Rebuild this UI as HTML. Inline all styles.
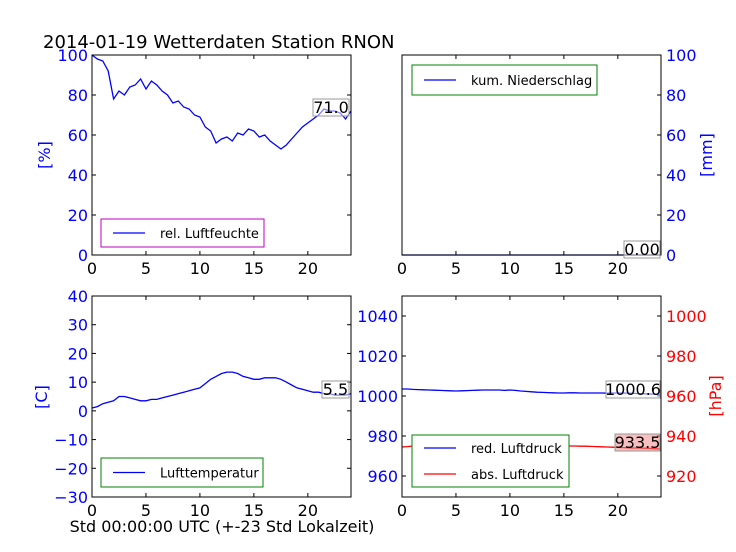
<!DOCTYPE html>
<html><head><meta charset="utf-8"><style>
body{margin:0;background:#fff;}
svg{display:block;font-family:"DejaVu Sans","Liberation Sans",sans-serif;}
</style></head><body>
<svg id="c" width="736" height="552"></svg>
<script>
const hours=[0,0.5,1,1.5,2,2.5,3,3.5,4,4.5,5,5.5,6,6.5,7,7.5,8,8.5,9,9.5,10,10.5,11,11.5,12,12.5,13,13.5,14,14.5,15,15.5,16,16.5,17,17.5,18,18.5,19,19.5,20,20.5,21,21.5,22,22.5,23,23.5,24];
const humidity=[100,98,97,92,78,82,80,84,85,88,83,87,85,82,80,76,77,74,73,70,69,64,62,56,58,59,57,61,60,63,62,59,60,57,55,53,55,58,61,64,66,68,70,73,72,72,71,68,72];
const rain=[0,0,0,0,0,0,0,0,0,0,0,0,0,0,0,0,0,0,0,0,0,0,0,0,0,0,0,0,0,0,0,0,0,0,0,0,0,0,0,0,0,0,0,0,0,0,0,0,0];
const temperature=[1,1.5,2.5,3,3.5,5,5,4.5,4,3.5,3.5,4,4,4.5,5,5.5,6,6.5,7,7.5,8,9.5,11,12,13,13.5,13.5,13,12,11.5,11,11,11.5,11.5,11.5,11,10,9,8,7.5,7,6.5,6.5,6,6,5.5,5.5,5.5,6];
const redPressure=[1003.5,1003.5,1003.3,1003.2,1003.1,1003,1002.9,1002.8,1002.7,1002.6,1002.5,1002.6,1002.7,1002.8,1002.9,1003,1003,1003,1003,1002.8,1003,1002.8,1002.5,1002.3,1002.1,1001.9,1001.8,1001.7,1001.6,1001.5,1001.5,1001.6,1001.6,1001.5,1001.5,1001.5,1001.5,1001.5,1001.4,1001.5,1001.5,1001.5,1001.4,1001.3,1001.2,1001.1,1001,1000.8,1000.6];
const absPressure=[934.5,934.7,935,934.8,934.5,934.3,934.1,934.3,934.5,934.7,934.9,935,935.1,935.3,935.5,935.7,935.9,936,936.1,936.1,936,935.9,935.8,935.7,935.7,935.6,935.5,935.4,935.3,935.2,935.1,935,935,934.9,934.9,934.8,934.7,934.6,934.5,934.4,934.3,934.2,934.1,934,934,933.9,933.8,933.6,933.5];
const xTicks=[0,5,10,15,20];
const humTicks=[0,20,40,60,80,100];
const tempTicks=[-30,-20,-10,0,10,20,30,40];
const presTicks=[960,980,1000,1020,1040];
const absTicks=[920,940,960,980,1000];

const NS="http://www.w3.org/2000/svg";
const svg=document.getElementById('c');
function el(tag,attrs,parent){const e=document.createElementNS(NS,tag);for(const k in attrs)e.setAttribute(k,attrs[k]);(parent||svg).appendChild(e);return e;}
function txt(s,attrs,parent){const t=el('text',attrs,parent);t.textContent=s;return t;}
function fmt(v){return v<0?'\u2212'+Math.abs(v):String(v);}

function panel(name,x0,y0,x1,y1){
  const g=el('g',{});
  
  
  const xs=v=>x0+(v/24)*(x1-x0);
  return {g,xs,x0,y0,x1,y1};
}
function frame(p){
  const r=el('rect',{x:p.x0,y:p.y0,width:p.x1-p.x0,height:p.y1-p.y0,fill:'none',stroke:'#000','stroke-width':1},p.g);
  
  
}
function xaxis(p){
  xTicks.forEach(v=>{
    const x=p.xs(v);
    el('line',{x1:x,x2:x,y1:p.y1,y2:p.y1-4,stroke:'#000'},p.g);
    el('line',{x1:x,x2:x,y1:p.y0,y2:p.y0+4,stroke:'#000'},p.g);
    const t=txt(String(v),{x:x,y:p.y1+19,'text-anchor':'middle','font-size':16},p.g);
    
    
  });
}
function yaxis(p,ticks,ys,side,color){
  ticks.forEach(v=>{
    const y=ys(v);
    el('line',{x1:p.x0,x2:p.x0+4,y1:y,y2:y,stroke:'#000'},p.g);
    el('line',{x1:p.x1,x2:p.x1-4,y1:y,y2:y,stroke:'#000'},p.g);
    const t=txt(fmt(v),{x:side==='left'?p.x0-4:p.x1+5,y:y+6,'text-anchor':side==='left'?'end':'start','font-size':16,fill:color},p.g);
    
    
  });
}
function series(p,vals,ys,color,name){
  const d=vals.map((v,i)=>(i?'L':'M')+p.xs(hours[i]).toFixed(1)+','+ys(v).toFixed(1)).join('');
  const path=el('path',{d:d,fill:'none',stroke:color,'stroke-width':1.3},p.g);
  
  
}
function valueBox(p,label,x,y,w,bg,name){
  el('rect',{x:x,y:y,width:w,height:17,fill:bg,stroke:'#999','stroke-width':1},p.g);
  const t=txt(label,{x:x+w/2,y:y+14,'text-anchor':'middle','font-size':16},p.g);
  
  
}
function legend(p,x,y,w,h,border,entries,name){
  const g=el('g',{},p.g);
  
  
  el('rect',{x:x,y:y,width:w,height:h,fill:'#fff',stroke:border},g);
  entries.forEach((e,i)=>{
    const cy=y+(h/entries.length)*(i+0.5);
    el('line',{x1:x+12,x2:x+44,y1:cy,y2:cy,stroke:e[1],'stroke-width':1.3},g);
    const t=txt(e[0],{x:x+59,y:cy+5,'font-size':13},g);
    
    
  });
}

const title=txt('2014-01-19 Wetterdaten Station RNON',{x:43,y:48,'font-size':18});



const p1=panel('humidity-panel',92,55,351,255);
const ys1=v=>p1.y1-(v/100)*(p1.y1-p1.y0);
series(p1,humidity,ys1,'#0000ff','humidity-line');
frame(p1);xaxis(p1);yaxis(p1,humTicks,ys1,'left','#0000ff');
valueBox(p1,'71.0',313,99,36,'rgba(255,255,255,0.5)','humidity-value');
legend(p1,101,219,163,28,'#bf00bf',[['rel. Luftfeuchte','#0000ff']],'humidity-legend');
let yl=txt('[%]',{x:0,y:0,'font-size':16,fill:'#0000ff','text-anchor':'middle',transform:'translate(50,155) rotate(-90)'});


const p2=panel('rain-panel',402,55,661,255);
const ys2=v=>p2.y1-(v/100)*(p2.y1-p2.y0);
series(p2,rain,ys2,'#0000ff','rain-line');
frame(p2);xaxis(p2);
humTicks.forEach(v=>{const y=ys2(v);el('line',{x1:p2.x1,x2:p2.x1-4,y1:y,y2:y,stroke:'#000'},p2.g);
  const t=txt(String(v),{x:p2.x1+5,y:y+6,'font-size':16,fill:'#0000ff'},p2.g);});
valueBox(p2,'0.00',624,241,36,'rgba(255,255,255,0.5)','rain-value');
legend(p2,412,65,185,30,'#008000',[['kum. Niederschlag','#0000ff']],'rain-legend');
yl=txt('[mm]',{x:0,y:0,'font-size':16,fill:'#0000ff','text-anchor':'middle',transform:'translate(712,155) rotate(-90)'});


const p3=panel('temperature-panel',92,296,351,497);
const ys3=v=>p3.y1-((v+30)/70)*(p3.y1-p3.y0);
series(p3,temperature,ys3,'#0000ff','temperature-line');
frame(p3);xaxis(p3);yaxis(p3,tempTicks,ys3,'left','#0000ff');
valueBox(p3,'5.5',322,381,27,'rgba(255,255,255,0.5)','temperature-value');
legend(p3,101,458,162,29,'#008000',[['Lufttemperatur','#0000ff']],'temperature-legend');
yl=txt('[C]',{x:0,y:0,'font-size':16,fill:'#0000ff','text-anchor':'middle',transform:'translate(47,397) rotate(-90)'});

const xl=txt('Std 00:00:00 UTC (+-23 Std Lokalzeit)',{x:222,y:532,'font-size':16,'text-anchor':'middle'});


const p4=panel('pressure-panel',402,296,661,497);
const ys4=v=>p4.y1-((v-949.5)/100.5)*(p4.y1-p4.y0);
const ys4r=v=>p4.y1-((v-909.5)/100.5)*(p4.y1-p4.y0);
series(p4,redPressure,ys4,'#0000ff','red-pressure-line');
series(p4,absPressure,ys4r,'#ff0000','abs-pressure-line');
frame(p4);xaxis(p4);
presTicks.forEach(v=>{const y=ys4(v);el('line',{x1:p4.x0,x2:p4.x0+4,y1:y,y2:y,stroke:'#000'},p4.g);
  const t=txt(String(v),{x:p4.x0-4,y:y+6,'text-anchor':'end','font-size':16,fill:'#0000ff'},p4.g);});
absTicks.forEach(v=>{const y=ys4r(v);el('line',{x1:p4.x1,x2:p4.x1-4,y1:y,y2:y,stroke:'#000'},p4.g);
  const t=txt(String(v),{x:p4.x1+5,y:y+6,'font-size':16,fill:'#ff0000'},p4.g);});
valueBox(p4,'1000.6',606,381,54,'rgba(255,255,255,0.5)','red-pressure-value');
valueBox(p4,'933.5',615,434,45,'rgba(240,128,128,0.5)','abs-pressure-value');
legend(p4,412,435,157,52,'#008000',[['red. Luftdruck','#0000ff'],['abs. Luftdruck','#ff0000']],'pressure-legend');
yl=txt('[hPa]',{x:0,y:0,'font-size':16,fill:'#ff0000','text-anchor':'middle',transform:'translate(721,396) rotate(-90)'});

</script>
</body></html>
